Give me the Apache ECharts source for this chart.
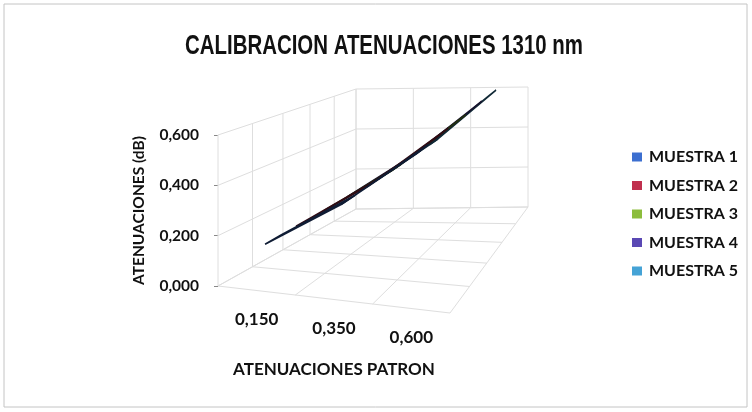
<!DOCTYPE html>
<html>
<head>
<meta charset="utf-8">
<script src="https://cdn.jsdelivr.net/npm/echarts@6/dist/echarts.min.js"></script>
<style>
  html, body { margin: 0; padding: 0; background: #fff; }
  #chart { width: 752px; height: 412px; }
</style>
</head>
<body>
<div id="chart"></div>
<script>
// categorias (eje patron) y valores
const categories = ['0,150', '0,350', '0,600']
const seriesNames = ['MUESTRA 1', 'MUESTRA 2', 'MUESTRA 3', 'MUESTRA 4', 'MUESTRA 5']
const muestra1 = [0.165, 0.358, 0.598]
const muestra2 = [0.166, 0.360, 0.600]
const muestra3 = [0.164, 0.357, 0.597]
const muestra4 = [0.167, 0.361, 0.601]
const muestra5 = [0.166, 0.359, 0.599]
const yTicks = [0, 0.2, 0.4, 0.6]

const seriesValues = [muestra1, muestra2, muestra3, muestra4, muestra5]
const colors = ['#3c6fd0', '#c0304e', '#8cbd3c', '#5a48b4', '#45a3d6']

// caja 3D (posiciones en pantalla del suelo y paredes)
const box = {
  fr: [450, 313],
  bl: [356, 209],
  br: [528, 207],
  backScale: 120 / 151,
  persp: 1 / 3
}
const nCat = categories.length
const nDepth = seriesNames.length
const yMax = yTicks[yTicks.length - 1]

const depthT = (z) => {
  const s = z / nDepth
  return s * (1 + box.persp) / (1 + box.persp * s)
}

// proyecta (categoria, valor, profundidad) a pixeles
const proj = (api, X, Y, Z) => {
  const o = api.coord([0, 0])
  const u = X / nCat
  const t = depthT(Z)
  const fx = api.coord([X, 0])[0]
  const fy = o[1] + u * (box.fr[1] - o[1])
  const bx = box.bl[0] + u * (box.br[0] - box.bl[0])
  const by = box.bl[1] + u * (box.br[1] - box.bl[1])
  const h = (o[1] - api.coord([0, Y])[1]) * (1 + t * (box.backScale - 1))
  return [fx + t * (bx - fx), fy + t * (by - fy) - h]
}

const gridStyle = { stroke: '#dedede', lineWidth: 1 }

const line = (a, b) => ({
  type: 'line',
  shape: { x1: a[0], y1: a[1], x2: b[0], y2: b[1] },
  style: gridStyle,
  silent: true
})

const renderWalls = (params, api) => {
  const children = []
  // pared lateral y suelo
  for (let z = 0; z <= nDepth; z++) {
    children.push(line(proj(api, 0, 0, z), proj(api, 0, yMax, z)))
    children.push(line(proj(api, 0, 0, z), proj(api, nCat, 0, z)))
  }
  yTicks.forEach((v) => {
    children.push(line(proj(api, 0, v, 0), proj(api, 0, v, nDepth)))
    children.push(line(proj(api, 0, v, nDepth), proj(api, nCat, v, nDepth)))
  })
  // pared del fondo
  for (let x = 0; x <= nCat; x++) {
    children.push(line(proj(api, x, 0, nDepth), proj(api, x, yMax, nDepth)))
    children.push(line(proj(api, x, 0, 0), proj(api, x, 0, nDepth)))
  }
  // etiquetas de categoria
  categories.forEach((c, i) => {
    const p = proj(api, i + 0.5, 0, 0)
    children.push({
      type: 'text',
      x: p[0],
      y: p[1] + 29,
      style: {
        text: c,
        fill: '#111',
        font: 'bold 17px Lato',
        align: 'center',
        verticalAlign: 'middle'
      }
    })
  })
  return { type: 'group', children: children }
}

const shade = (hex, k) => {
  const n = parseInt(hex.slice(1), 16)
  const r = Math.round(((n >> 16) & 255) * k)
  const g = Math.round(((n >> 8) & 255) * k)
  const b = Math.round((n & 255) * k)
  return `rgb(${r},${g},${b})`
}

const makeRibbon = (k) => (params, api) => {
  const i = api.value(0)
  const vals = seriesValues[k]
  if (i >= vals.length - 1) return null
  const z = k + 0.5
  const d = 0.25
  const a0 = proj(api, i + 0.5, vals[i], z - d)
  const a1 = proj(api, i + 1.5, vals[i + 1], z - d)
  const b1 = proj(api, i + 1.5, vals[i + 1], z + d)
  const b0 = proj(api, i + 0.5, vals[i], z + d)
  return {
    type: 'polygon',
    shape: { points: [a0, a1, b1, b0] },
    style: {
      fill: shade(colors[k], 0.4),
      stroke: shade(colors[k], 0.25),
      lineWidth: 1.6
    }
  }
}

// titulo condensado: se ajusta al ancho del original
const titleText = 'CALIBRACION ATENUACIONES 1310 nm'
const titleFont = 'bold 28px "Liberation Sans"'
const ctx = document.createElement('canvas').getContext('2d')
ctx.font = titleFont
const titleScale = 398 / ctx.measureText(titleText).width

const chart = echarts.init(document.getElementById('chart'))

const ribbonSeries = seriesNames.map((name, k) => ({
  name: name,
  type: 'custom',
  renderItem: makeRibbon(k),
  itemStyle: { color: colors[k] },
  z: 10 - k,
  data: seriesValues[k].map((v, i) => [i, v])
}))

chart.setOption({
  animation: false,
  backgroundColor: '#fff',
  graphic: [
    {
      type: 'rect',
      shape: { x: 4, y: 4, width: 743, height: 403 },
      style: { fill: 'none', stroke: '#c4c4c4', lineWidth: 1 },
      silent: true
    },
    {
      type: 'text',
      x: 384,
      y: 46,
      scaleX: titleScale,
      originX: 0,
      originY: 0,
      style: {
        text: titleText,
        font: titleFont,
        fill: '#111',
        align: 'center',
        verticalAlign: 'middle'
      }
    }
  ],
  legend: {
    orient: 'vertical',
    left: 632,
    top: 149,
    padding: 0,
    itemWidth: 10,
    itemHeight: 9,
    itemGap: 12.5,
    icon: 'rect',
    data: seriesNames,
    textStyle: { fontFamily: 'Lato', fontWeight: 'bold', fontSize: 16, color: '#111', padding: [0, 0, 0, 2] }
  },
  grid: { left: 218, top: 135, width: 232, height: 151 },
  xAxis: {
    type: 'value',
    min: 0,
    max: nCat,
    name: 'ATENUACIONES PATRON',
    nameLocation: 'middle',
    nameGap: 75,
    nameTextStyle: { fontFamily: 'Lato', fontWeight: 'bold', fontSize: 17, color: '#111' },
    axisLine: { show: false },
    axisTick: { show: false },
    axisLabel: { show: false },
    splitLine: { show: false }
  },
  yAxis: {
    type: 'value',
    min: 0,
    max: yMax,
    interval: 0.2,
    name: 'ATENUACIONES (dB)',
    nameLocation: 'middle',
    nameGap: 71,
    nameTextStyle: { fontFamily: 'Lato', fontWeight: 'bold', fontSize: 15.5, color: '#111' },
    axisLine: { show: false },
    axisTick: { show: true, length: 4, lineStyle: { color: '#888' } },
    axisLabel: {
      margin: 19,
      fontFamily: 'Lato',
      fontWeight: 'bold',
      fontSize: 15.5,
      color: '#111',
      formatter: (v) => v.toFixed(3).replace('.', ',')
    },
    splitLine: { show: false }
  },
  series: [
    {
      name: 'walls',
      type: 'custom',
      silent: true,
      z: 1,
      renderItem: renderWalls,
      data: [[0, 0]]
    },
    ...ribbonSeries
  ]
})
</script>
</body>
</html>
